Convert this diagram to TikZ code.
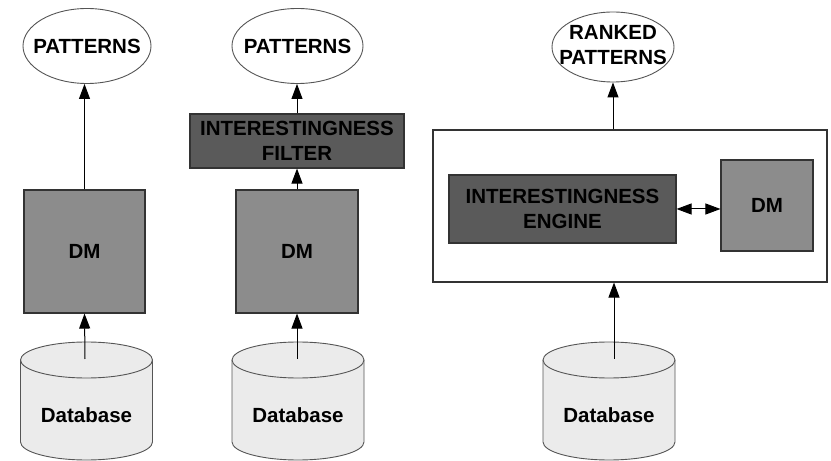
\documentclass[tikz,border=0pt]{standalone}
\usepackage{fontspec}
\setmainfont{Liberation Sans}
\usetikzlibrary{shapes.geometric,arrows.meta}
\definecolor{dmfill}{HTML}{8C8C8C}
\definecolor{darkfill}{HTML}{5A5A5A}
\definecolor{dbfill}{HTML}{EBEBEB}
\definecolor{edge}{HTML}{333333}
\definecolor{softedge}{HTML}{555555}
\begin{document}
\begin{tikzpicture}[x=1pt,y=1pt,
  txt/.style={font=\bfseries\fontsize{20.5}{25}\selectfont, align=center, inner sep=0pt},
  pat/.style={ellipse, draw=softedge, fill=white, line width=0.9pt, inner sep=0pt},
  dmbox/.style={rectangle, draw=edge, fill=dmfill, line width=1.1pt, inner sep=0pt, txt},
  darkbox/.style={rectangle, draw=edge, fill=darkfill, line width=1.1pt, inner sep=0pt, txt},
  frame/.style={rectangle, draw=edge, fill=white, line width=1.1pt, inner sep=0pt},
  arr/.style={line width=1pt, -{Triangle[length=15pt,width=11pt]}},
  dbl/.style={line width=1pt, {Triangle[length=15pt,width=11pt]}-{Triangle[length=15pt,width=11pt]}},
  dbline/.style={draw=softedge, fill=dbfill, line width=0.9pt},
  dbcyl/.pic={
    \path[dbline] (-66,41) -- (-66,-41)
      arc[start angle=180, end angle=360, x radius=66pt, y radius=18pt] -- (66,41);
    \path[dbline] (0,41) ellipse[x radius=66pt, y radius=18pt];
  }
]
\useasboundingbox (0,0) rectangle (831,461);

% ---------- column 1 ----------
\node[pat, minimum width=128pt, minimum height=75pt] (pat1) at (87,415) {};
\node[txt] (pat1t) at (pat1) {PATTERNS};
\node[dmbox, minimum width=121pt, minimum height=123pt] (dm1) at (84.5,209.5) {DM};
\pic at (86.5,60) {dbcyl};
\node[txt] (db1) at (86.5,46) {Database};
\coordinate (db1top) at (85,102);
\draw[arr] (db1top) -- (dm1.south);
\draw[arr] (dm1.north) -- (dm1.north |- pat1.south);

% ---------- column 2 ----------
\node[pat, minimum width=131pt, minimum height=75pt] (pat2) at (297.5,415) {};
\node[txt] (pat2t) at (pat2) {PATTERNS};
\node[darkbox, minimum width=214pt, minimum height=54pt] (filter) at (297,320) {INTERESTINGNESS\\FILTER};
\node[dmbox, minimum width=122pt, minimum height=123pt] (dm2) at (297,209.5) {DM};
\pic at (298,60) {dbcyl};
\node[txt] (db2) at (298,46) {Database};
\coordinate (db2top) at (297,102);
\draw[arr] (db2top) -- (dm2.south);
\draw[arr] (dm2.north) -- (filter.south);
\draw[arr] (filter.north) -- (filter.north |- pat2.south);

% ---------- column 3 ----------
\node[pat, minimum width=122pt, minimum height=70pt] (pat3) at (613,414) {};
\node[txt] (pat3t) at (613,415.5) {RANKED\\PATTERNS};
\node[frame, minimum width=394pt, minimum height=152pt] (frame) at (630,255) {};
\node[darkbox, minimum width=227pt, minimum height=68pt] (engine) at (562.5,252) {INTERESTINGNESS\\ENGINE};
\node[dmbox, minimum width=92pt, minimum height=91pt] (dm3) at (767,255.5) {DM};
\draw[dbl] (engine.east) -- (engine.east -| dm3.west);
\pic at (609,60) {dbcyl};
\node[txt] (db3) at (609,46) {Database};
\coordinate (db3top) at (614,102);
\draw[arr] (db3top) -- (db3top |- frame.south);
\draw[arr] (pat3.south |- frame.north) -- (pat3.south);
\end{tikzpicture}
\end{document}
